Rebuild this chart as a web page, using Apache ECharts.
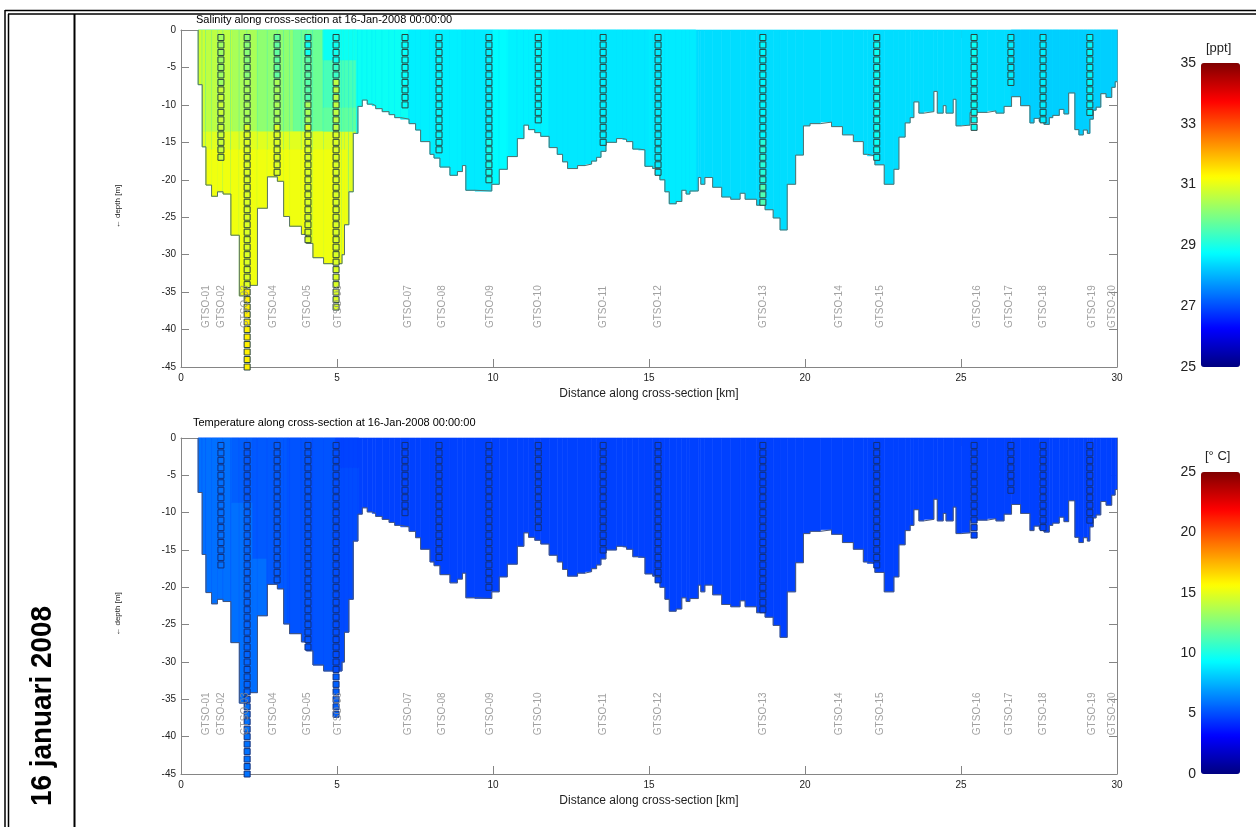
<!DOCTYPE html>
<html><head><meta charset="utf-8">
<script src="https://cdn.jsdelivr.net/npm/echarts@6/dist/echarts.min.js"></script>
<style>html,body{margin:0;padding:0;background:#fff;}#c{width:1259px;height:827px;}</style>
</head><body><div id="c"></div>
<script>
// ---------- DATA ----------
const bedX = [0.55,0.68,0.80,0.98,1.17,1.35,1.60,1.87,2.12,2.45,2.77,3.09,3.29,3.48,3.86,4.02,4.23,4.57,5.16,5.24,5.38,5.52,5.67,5.81,5.97,6.13,6.24,6.45,6.67,6.85,7.04,7.31,7.52,7.68,7.98,8.11,8.30,8.62,8.86,9.02,9.13,9.42,9.96,10.20,10.46,10.78,10.99,11.14,11.34,11.53,11.80,12.06,12.23,12.39,12.71,12.95,13.16,13.32,13.46,13.62,13.96,14.16,14.28,14.48,14.66,14.87,15.12,15.35,15.51,15.65,15.87,16.05,16.19,16.31,16.58,16.66,16.79,17.04,17.33,17.62,17.92,18.08,18.45,18.72,18.98,19.20,19.43,19.70,19.95,20.16,20.50,20.85,21.20,21.55,21.87,22.00,22.24,22.54,22.85,23.01,23.21,23.37,23.49,23.65,23.81,24.13,24.24,24.43,24.52,24.75,24.84,25.02,25.29,25.84,26.12,26.38,26.62,26.91,27.21,27.34,27.51,27.66,27.83,27.94,28.15,28.30,28.45,28.65,28.78,28.92,29.05,29.13,29.24,29.33,29.48,29.65,29.83,29.94];
const bedDepth = [-7.3,-15.6,-20.7,-22.2,-21.6,-21.9,-27.4,-35.5,-34.1,-23.8,-19.6,-20.2,-24.9,-26.2,-27.3,-28.5,-30.4,-31.2,-30.0,-26.0,-21.6,-13.8,-10.2,-9.35,-9.9,-10.1,-10.5,-10.9,-11.3,-11.7,-11.9,-12.5,-13.35,-14.9,-16.6,-17.1,-18.3,-19.4,-18.9,-18.1,-21.4,-21.5,-20.6,-18.6,-16.9,-14.5,-12.7,-13.3,-13.7,-14.2,-15.7,-16.6,-17.6,-18.5,-18.1,-17.9,-17.5,-17.0,-16.2,-15.0,-14.5,-14.6,-14.9,-15.9,-16.0,-18.2,-18.5,-20.0,-21.6,-23.2,-22.9,-21.4,-21.9,-21.5,-19.7,-20.6,-19.7,-21.0,-22.3,-22.6,-21.8,-22.6,-23.4,-24.0,-25.1,-26.7,-20.6,-16.7,-12.8,-12.5,-12.3,-12.9,-14.0,-14.9,-16.6,-16.8,-18.0,-20.6,-18.6,-14.3,-12.4,-11.7,-9.6,-11.1,-10.9,-8.2,-11.1,-10.1,-11.1,-9.25,-12.8,-12.7,-11.0,-10.8,-11.1,-10.2,-8.9,-10.1,-12.4,-11.8,-12.2,-12.6,-11.7,-11.4,-10.6,-11.2,-8.4,-13.3,-14.0,-13.35,-13.8,-11.9,-10.7,-10.3,-8.5,-9.0,-7.65,-6.9];
const xEnd = 30;

const labelNames = ['GTSO-01','GTSO-02','GTSO-03','GTSO-04','GTSO-05','GTSO-06','GTSO-07','GTSO-08','GTSO-09','GTSO-10','GTSO-11','GTSO-12','GTSO-13','GTSO-14','GTSO-15','GTSO-16','GTSO-17','GTSO-18','GTSO-19','GTSO-20'];
const labelX = [0.80,1.28,2.05,2.95,4.04,5.03,7.28,8.38,9.90,11.44,13.53,15.29,18.65,21.09,22.40,25.51,26.54,27.63,29.20,29.84];
const labelDepth = -39.8;

// stations with measurements (squares every metre)
const sqX = [1.28,2.12,3.08,4.07,4.97,7.18,8.27,9.87,11.45,13.53,15.29,18.65,22.30,25.42,26.60,27.63,29.13];
// runs: [topDepth, bottomDepth, value]
const salRuns = [
 [[-1,-7,30.3],[-8,-17,30.7]],
 [[-1,-6,30.1],[-7,-12,30.4],[-13,-34,30.9],[-35,-45,31.4]],
 [[-1,-6,29.7],[-7,-12,30.4],[-13,-19,30.9]],
 [[-1,-3,28.9],[-4,-9,29.6],[-10,-12,30.4],[-13,-28,30.9]],
 [[-1,-4,28.9],[-5,-6,29.3],[-7,-13,30.6],[-14,-37,30.9]],
 [[-1,-10,28.8]],
 [[-1,-16,28.7]],
 [[-1,-14,28.6],[-15,-20,28.9]],
 [[-1,-12,28.7]],
 [[-1,-15,28.6]],
 [[-1,-19,28.55]],
 [[-1,-14,28.7],[-15,-20,29.1],[-21,-23,29.5]],
 [[-1,-17,28.85]],
 [[-1,-13,28.85]],
 [[-1,-7,28.6]],
 [[-1,-12,28.6]],
 [[-1,-11,28.7]]
];
const tempRuns = [
 [[-1,-17,5.85]],
 [[-1,-8,5.3],[-9,-35,5.6],[-36,-45,5.9]],
 [[-1,-19,5.35]],
 [[-1,-28,5.2]],
 [[-1,-31,5.0],[-32,-37,5.45]],
 [[-1,-10,4.75]],
 [[-1,-16,4.75]],
 [[-1,-20,4.75]],
 [[-1,-12,4.75]],
 [[-1,-15,4.75]],
 [[-1,-19,4.75]],
 [[-1,-23,4.75]],
 [[-1,-17,4.75]],
 [[-1,-13,4.75]],
 [[-1,-7,4.75]],
 [[-1,-12,4.75]],
 [[-1,-11,4.75]]
];

// field zones: [x0, x1, topDepth, bottomDepth, value] (later zones paint over earlier)
const salZones = [
 [0,30,0,-50,28.42],
 [5.5,7.3,0,-50,28.85],
 [7.3,9.0,0,-50,28.6],
 [9.0,10.0,0,-50,28.55],
 [10.0,10.5,0,-50,28.72],
 [10.5,11.8,0,-50,28.62],
 [11.8,15.0,0,-50,28.52],
 [15.0,16.5,0,-50,28.56],
 [26.6,30,0,-50,28.28],
 [0.5,5.6,-13.5,-50,30.95],
 [0.5,5.3,-16,-50,31.1],
 [0.5,0.78,0,-13.5,30.75],
 [0.78,1.65,0,-13.5,30.6],
 [1.65,2.45,0,-13.5,30.4],
 [2.45,3.6,0,-13.5,30.15],
 [3.6,4.55,0,-13.5,29.8],
 [4.55,5.6,0,-13.5,29.45],
 [4.55,5.6,0,-4,28.85],
 [4.55,5.6,-10.4,-13.5,29.7]
];
const tempZones = [
 [0,30,0,-50,4.7],
 [0.5,1.63,0,-50,5.85],
 [1.63,2.3,0,-8.7,5.45],
 [1.63,2.3,-8.7,-50,5.85],
 [2.3,2.75,0,-16.2,5.3],
 [2.3,2.75,-16.2,-50,5.8],
 [2.75,3.4,0,-50,5.3],
 [3.4,4.95,0,-50,5.15],
 [4.95,5.7,0,-4,4.75],
 [4.95,5.7,-4,-50,4.95]
];
const xTicks = {min:0, max:30, interval:5};
const depthTicks = {min:-45, max:0, interval:5};
const salRange = {min:25, max:35, interval:2};
const tempRange = {min:0, max:25, interval:5};

// ---------- BUILD ----------
const FONT = 'Liberation Sans, Arial, Helvetica, sans-serif';
const jet = ['#000080','#0000ff','#0080ff','#00ffff','#80ff80','#ffff00','#ff8000','#ff0000','#800000'];

function buildCells(zones){
  const cells = [];
  for (let i=0;i<bedX.length;i++){
    const x0 = bedX[i], x1 = (i+1<bedX.length)? bedX[i+1] : xEnd, bot = bedDepth[i];
    zones.forEach(z=>{
      const a = Math.max(x0,z[0]), b = Math.min(x1,z[1]);
      const lo = Math.max(bot, z[3]);
      if (b>a && z[2]>lo) cells.push([a,b,z[2],lo,z[4]]);
    });
  }
  return cells;
}
function buildSquares(runs){
  const out = [];
  runs.forEach((st,si)=>{
    st.forEach(r=>{
      for (let d=r[0]; d>=r[1]; d--) out.push([sqX[si], d, r[2]]);
    });
  });
  return out;
}
const outline = [[bedX[0],0]].concat(bedX.map((x,i)=>[x,bedDepth[i]])).concat([[xEnd,bedDepth[bedDepth.length-1]]]);
const labels = labelNames.map((n,i)=>({name:n, value:[labelX[i], labelDepth]}));

function renderCell(params, api){
  const p0 = api.coord([api.value(0), api.value(2)]);
  const p1 = api.coord([api.value(1), api.value(3)]);
  const c = api.visual('color');
  return {type:'rect', shape:{x:p0[0], y:p0[1], width:p1[0]-p0[0], height:p1[1]-p0[1]},
          style:{fill:c, stroke:c, lineWidth:0.6}};
}

const axisGray = '#858585';
function mainX(gi){
  return [
    {gridIndex:gi, type:'value', min:xTicks.min, max:xTicks.max, interval:xTicks.interval,
     axisLine:{onZero:false, lineStyle:{color:axisGray}}, axisTick:{inside:true, length:8, lineStyle:{color:axisGray}},
     splitLine:{show:false}, axisLabel:{color:'#222', fontSize:10, fontFamily:FONT, margin:6},
     name:'Distance along cross-section [km]', nameLocation:'middle', nameGap:21,
     nameTextStyle:{color:'#222', fontSize:12, fontFamily:FONT}},
    {gridIndex:gi, type:'value', position:'top', min:xTicks.min, max:xTicks.max, interval:xTicks.interval,
     axisLine:{onZero:false, lineStyle:{color:axisGray}}, axisTick:{inside:true, length:8, lineStyle:{color:axisGray}},
     axisLabel:{show:false}, splitLine:{show:false}}
  ];
}
function mainY(gi){
  return [
    {gridIndex:gi, type:'value', min:depthTicks.min, max:depthTicks.max, interval:depthTicks.interval,
     axisLine:{onZero:false, lineStyle:{color:axisGray}}, axisTick:{inside:true, length:8, lineStyle:{color:axisGray}},
     splitLine:{show:false}, axisLabel:{color:'#222', fontSize:10, fontFamily:FONT, margin:5},
     name:'\u2190 depth [m]', nameLocation:'middle', nameGap:59,
     nameTextStyle:{color:'#222', fontSize:8, fontFamily:FONT, padding:[0,16,0,0]}},
    {gridIndex:gi, type:'value', position:'right', min:depthTicks.min, max:depthTicks.max, interval:depthTicks.interval,
     axisLine:{onZero:false, lineStyle:{color:axisGray}}, axisTick:{inside:true, length:8, lineStyle:{color:axisGray}},
     axisLabel:{show:false}, splitLine:{show:false}}
  ];
}
function cbY(gi, r){
  return {gridIndex:gi, type:'value', min:r.min, max:r.max, interval:r.interval,
    axisLine:{show:false, onZero:false}, axisTick:{show:false}, splitLine:{show:false},
    axisLabel:{color:'#222', fontSize:14, fontFamily:FONT, margin:5}};
}

function plotSeries(xi, yi, zones, runs, border, lineColor){
  return [
    {type:'custom', xAxisIndex:xi, yAxisIndex:yi, data:buildCells(zones), renderItem:renderCell,
     encode:{x:[0,1], y:[2,3]}, z:1, silent:true},
    {type:'line', xAxisIndex:xi, yAxisIndex:yi, data:outline, step:'end', symbol:'none',
     lineStyle:{color:lineColor, width:1}, z:2, silent:true},
    {type:'scatter', xAxisIndex:xi, yAxisIndex:yi, data:buildSquares(runs), symbol:'rect', symbolSize:6,
     itemStyle:{borderColor:border, borderWidth:1, opacity:1}, z:3, clip:false, silent:true},
    {type:'scatter', xAxisIndex:xi, yAxisIndex:yi, data:labels, symbolSize:1, itemStyle:{color:'rgba(0,0,0,0)'},
     label:{show:true, formatter:'{b}', rotate:90, position:'inside', align:'left', verticalAlign:'middle',
            color:'#8a8a8a', fontSize:10, fontFamily:FONT}, z:4, silent:true, clip:false}
  ];
}

const series = [].concat(
  plotSeries(0,0,salZones,salRuns,'#2a4440','#56706e'),
  plotSeries(2,2,tempZones,tempRuns,'#12307a','#46567a')
);

const option = {
  backgroundColor:'#fff',
  animation:false,
  title:[
    {text:'Salinity along cross-section at 16-Jan-2008 00:00:00', left:196, top:14, padding:0,
     textStyle:{fontSize:11, fontWeight:'normal', color:'#000', fontFamily:FONT}},
    {text:'Temperature along cross-section at 16-Jan-2008 00:00:00', left:193, top:417, padding:0,
     textStyle:{fontSize:11, fontWeight:'normal', color:'#000', fontFamily:FONT}},
    {text:'[ppt]', left:1206, top:42, padding:0, textStyle:{fontSize:13, fontWeight:'normal', color:'#222', fontFamily:FONT}},
    {text:'[\u00b0 C]', left:1205, top:450, padding:0, textStyle:{fontSize:13, fontWeight:'normal', color:'#222', fontFamily:FONT}}
  ],
  grid:[
    {left:181, top:30, width:936, height:337},
    {left:181, top:438, width:936, height:336},
    {left:1201, top:63, width:39, height:304},
    {left:1201, top:472, width:39, height:302}
  ],
  xAxis:[].concat(mainX(0), mainX(1), [
    {gridIndex:2, type:'value', min:0, max:1, show:false},
    {gridIndex:3, type:'value', min:0, max:1, show:false}]),
  yAxis:[].concat(mainY(0), mainY(1), [cbY(2,salRange), cbY(3,tempRange)]),
  visualMap:[
    {type:'continuous', seriesIndex:0, dimension:4, min:salRange.min, max:salRange.max, inRange:{color:jet},
     left:1201, top:63, itemWidth:39, itemHeight:304, padding:0, text:null, calculable:false, showLabel:false,
     textStyle:{fontSize:0}},
    {type:'continuous', seriesIndex:2, dimension:2, min:salRange.min, max:salRange.max, inRange:{color:jet}, show:false},
    {type:'continuous', seriesIndex:4, dimension:4, min:tempRange.min, max:tempRange.max, inRange:{color:jet},
     left:1201, top:472, itemWidth:39, itemHeight:302, padding:0, text:null, calculable:false, showLabel:false,
     textStyle:{fontSize:0}},
    {type:'continuous', seriesIndex:6, dimension:2, min:tempRange.min, max:tempRange.max, inRange:{color:jet}, show:false}
  ],
  graphic:[
    {type:'line', shape:{x1:5, y1:10.5, x2:1256, y2:10.5}, style:{stroke:'#000', lineWidth:1.5}},
    {type:'line', shape:{x1:8, y1:14, x2:1256, y2:14}, style:{stroke:'#000', lineWidth:1.5}},
    {type:'line', shape:{x1:5, y1:10, x2:5, y2:827}, style:{stroke:'#000', lineWidth:1.5}},
    {type:'line', shape:{x1:8.5, y1:14, x2:8.5, y2:827}, style:{stroke:'#000', lineWidth:1.5}},
    {type:'line', shape:{x1:74.5, y1:14, x2:74.5, y2:827}, style:{stroke:'#000', lineWidth:2}},
    {type:'text', x:43, y:706, rotation:Math.PI/2, scaleX:0.93,
     style:{text:'16 januari 2008', fontSize:30, fontWeight:'bold', fontFamily:FONT, fill:'#000',
            textAlign:'center', textVerticalAlign:'middle', align:'center', verticalAlign:'middle'}}
  ],
  series:series
};
const chart = echarts.init(document.getElementById('c'), null, {renderer:'canvas'});
chart.setOption(option);
</script></body></html>
